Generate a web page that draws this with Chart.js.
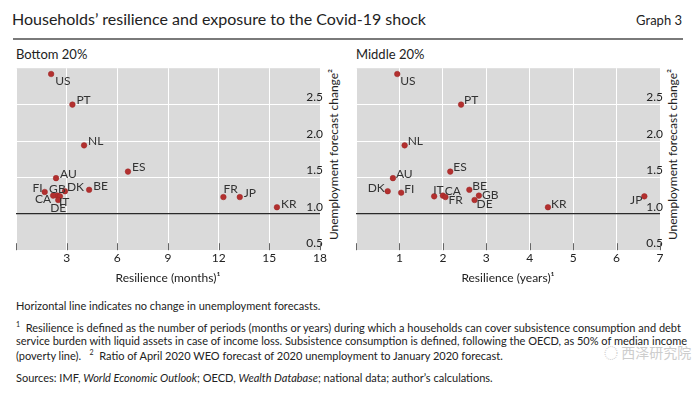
<!DOCTYPE html>
<html>
<head>
<meta charset="utf-8">
<script src="https://cdn.jsdelivr.net/npm/chart.js@4/dist/chart.umd.min.js"></script>
<style>
  body { margin: 0; width: 693px; height: 393px; background: #fff; font-family: "Lato", "Noto Sans", sans-serif; color: #222; position: relative; overflow: hidden; }
  .abs { position: absolute; white-space: nowrap; }
  #title { left: 12px; top: 9px; font-size: 16px; }
  #graphNo { right: 11px; top: 12px; font-size: 13px; }
  #rule { left: 13px; top: 38px; width: 670px; height: 2px; background: #7a7a7a; }
  .panel { top: 46px; font-size: 13px; }
  .ytitle { font-size: 12px; transform: rotate(-90deg); transform-origin: center; width: 180px; text-align: center; }
  .foot { left: 16px; font-size: 11px; color: #222; }
  .wm { font-family: "Noto Sans CJK SC", sans-serif; color: #cdcdcd; font-size: 14px; }
  canvas { position: absolute; }
</style>
</head>
<body>
<div class="abs" id="title">Households’ resilience and exposure to the Covid-19 shock</div>
<div class="abs" id="graphNo">Graph 3</div>
<div class="abs" id="rule"></div>
<div class="abs panel" style="left:16px">Bottom 20%</div>
<div class="abs panel" style="left:356px">Middle 20%</div>
<div class="abs ytitle" style="left:243px; top:147px">Unemployment forecast change²</div>
<div class="abs ytitle" style="left:582px; top:147px">Unemployment forecast change²</div>

<canvas id="bottomChart" width="335" height="227" style="left:0; top:58px"></canvas>
<canvas id="middleChart" width="335" height="227" style="left:340px; top:58px"></canvas>

<div class="abs foot" style="top:299px">Horizontal line indicates no change in unemployment forecasts.</div>
<div class="abs foot" style="top:320px"><sup style="font-size:7px">1</sup>&nbsp; Resilience is defined as the number of periods (months or years) during which a households can cover subsistence consumption and debt</div>
<div class="abs foot" style="top:334px">service burden with liquid assets in case of income loss. Subsistence consumption is defined, following the OECD, as 50% of median income</div>
<div class="abs foot" style="top:348px">(poverty line). &nbsp;&nbsp;<sup style="font-size:7px">2</sup>&nbsp; Ratio of April 2020 WEO forecast of 2020 unemployment to January 2020 forecast.</div>
<div class="abs foot" style="top:371px">Sources: IMF, <i>World Economic Outlook</i>; OECD, <i>Wealth Database</i>; national data; author’s calculations.</div>
<div class="abs wm" style="left:604px; top:342px">◌ 西泽研究院</div>

<script>
// country codes, same order in both panels
const countries = ["US", "PT", "NL", "ES", "AU", "FI", "GB", "DK", "CA", "IT", "DE", "BE", "FR", "JP", "KR"];

// Bottom 20%: resilience in months, unemployment forecast ratio
const bottomResilience = [2.08, 3.34, 4.03, 6.63, 2.37, 1.70, 2.45, 2.90, 2.20, 2.60, 2.50, 4.33, 12.28, 13.25, 15.45];
const bottomChange = [2.92, 2.50, 1.94, 1.58, 1.49, 1.30, 1.25, 1.31, 1.25, 1.24, 1.19, 1.33, 1.23, 1.23, 1.09];

// Middle 20%: resilience in years
const middleResilience = [0.95, 2.42, 1.12, 2.17, 0.85, 1.04, 2.83, 0.73, 2.00, 1.80, 2.73, 2.61, 2.06, 6.64, 4.42];
const middleChange = [2.92, 2.50, 1.94, 1.58, 1.49, 1.29, 1.25, 1.31, 1.25, 1.24, 1.19, 1.33, 1.23, 1.24, 1.09];

const yTicks = [0.5, 1.0, 1.5, 2.0, 2.5];

// label placement next to each dot: [dx, dy, align]
const bottomLabelPos = {
  US: [4, 7, "left"], PT: [4, -4, "left"], NL: [4, -4, "left"], ES: [4, -4, "left"],
  AU: [4, -4, "left"], FI: [-2, -4, "right"], GB: [0, -6, "center"], DK: [2, -4, "left"],
  CA: [-2, 4, "right"], IT: [-1, 6, "left"], DE: [0, 8, "center"], BE: [4, -4, "left"],
  FR: [0, -8, "left"], JP: [4, -4, "left"], KR: [4, -3, "left"],
};
const middleLabelPos = {
  US: [3, 7, "left"], PT: [3, -4, "left"], NL: [3, -4, "left"], ES: [3, -4, "left"],
  AU: [3, -4, "left"], DK: [-3, -3, "right"], FI: [3, -4, "left"], IT: [-1, -6, "left"],
  CA: [2, -4, "left"], FR: [3, 3, "left"], BE: [3, -4, "left"], GB: [3, 0, "left"],
  DE: [2, 4, "left"], KR: [3, -3, "left"], JP: [-2, 4, "right"],
};

const fontFamily = "Lato, 'Noto Sans', sans-serif";

const panelPlugin = {
  id: "panel",
  beforeDraw(chart) {
    const { ctx, chartArea: a } = chart;
    ctx.save();
    ctx.fillStyle = "#dadada";
    ctx.fillRect(a.left, a.top, a.right - a.left, a.bottom - a.top);
    ctx.restore();
  },
  afterDatasetsDraw(chart, args, opts) {
    const { ctx, chartArea: a } = chart;
    const xs = chart.scales.x;
    ctx.save();
    // short tick marks inside the plot, at the bottom
    ctx.strokeStyle = "#666";
    ctx.lineWidth = 1;
    xs.ticks.forEach((t) => {
      const px = Math.round(xs.getPixelForValue(t.value)) + 0.5;
      ctx.beginPath();
      ctx.moveTo(px, a.bottom - 7);
      ctx.lineTo(px, a.bottom);
      ctx.stroke();
    });
    // country labels
    ctx.fillStyle = "#333";
    ctx.font = "12px " + fontFamily;
    ctx.textBaseline = "middle";
    const meta = chart.getDatasetMeta(0);
    meta.data.forEach((pt, i) => {
      const code = countries[i];
      const p = opts.pos[code] || [4, -4, "left"];
      ctx.textAlign = p[2];
      ctx.fillText(code, pt.x + p[0], pt.y + p[1]);
    });
    ctx.restore();
  },
};

function makeChart(id, xs, ys, xMax, xStep, xTitle, labelPos) {
  return new Chart(document.getElementById(id), {
    type: "scatter",
    data: {
      datasets: [
        {
          data: xs.map((x, i) => ({ x: x, y: ys[i] })),
          backgroundColor: "#b3302f",
          borderColor: "#9c2626",
          borderWidth: 0.5,
          pointRadius: 2.8,
        },
      ],
    },
    options: {
      responsive: false,
      animation: false,
      layout: { padding: { left: 16, top: 7, right: 9, bottom: 0 } },
      plugins: {
        legend: { display: false },
        tooltip: { enabled: false },
        panel: { pos: labelPos },
      },
      scales: {
        x: {
          type: "linear",
          min: 0,
          max: xMax,
          border: { display: false },
          grid: { color: "#ffffff", lineWidth: 1, drawTicks: false },
          ticks: {
            stepSize: xStep,
            padding: 1,
            color: "#222",
            font: { size: 12, family: fontFamily },
            callback: (v) => (v === 0 ? "" : v),
            maxRotation: 0,
          },
          title: {
            display: true,
            text: xTitle,
            color: "#222",
            font: { size: 12, family: fontFamily },
            padding: { top: 4, bottom: 0 },
          },
        },
        y: {
          position: "right",
          min: 0.5,
          max: 3.0,
          border: { display: false },
          afterBuildTicks: (axis) => {
            axis.ticks = yTicks.map((v) => ({ value: v }));
          },
          grid: {
            drawTicks: false,
            color: (c) => (c.tick && c.tick.value === 1 ? "#2a2a2a" : "#ffffff"),
            lineWidth: (c) => (c.tick && c.tick.value === 1 ? 1.3 : 1),
          },
          ticks: {
            mirror: true,
            padding: 3,
            labelOffset: -7,
            color: "#222",
            font: { size: 12, family: fontFamily },
            callback: (v) => v.toFixed(1),
          },
        },
      },
    },
    plugins: [panelPlugin],
  });
}

makeChart("bottomChart", bottomResilience, bottomChange, 18, 3, "Resilience (months)¹", bottomLabelPos);
makeChart("middleChart", middleResilience, middleChange, 7, 1, "Resilience (years)¹", middleLabelPos);
</script>
</body>
</html>
